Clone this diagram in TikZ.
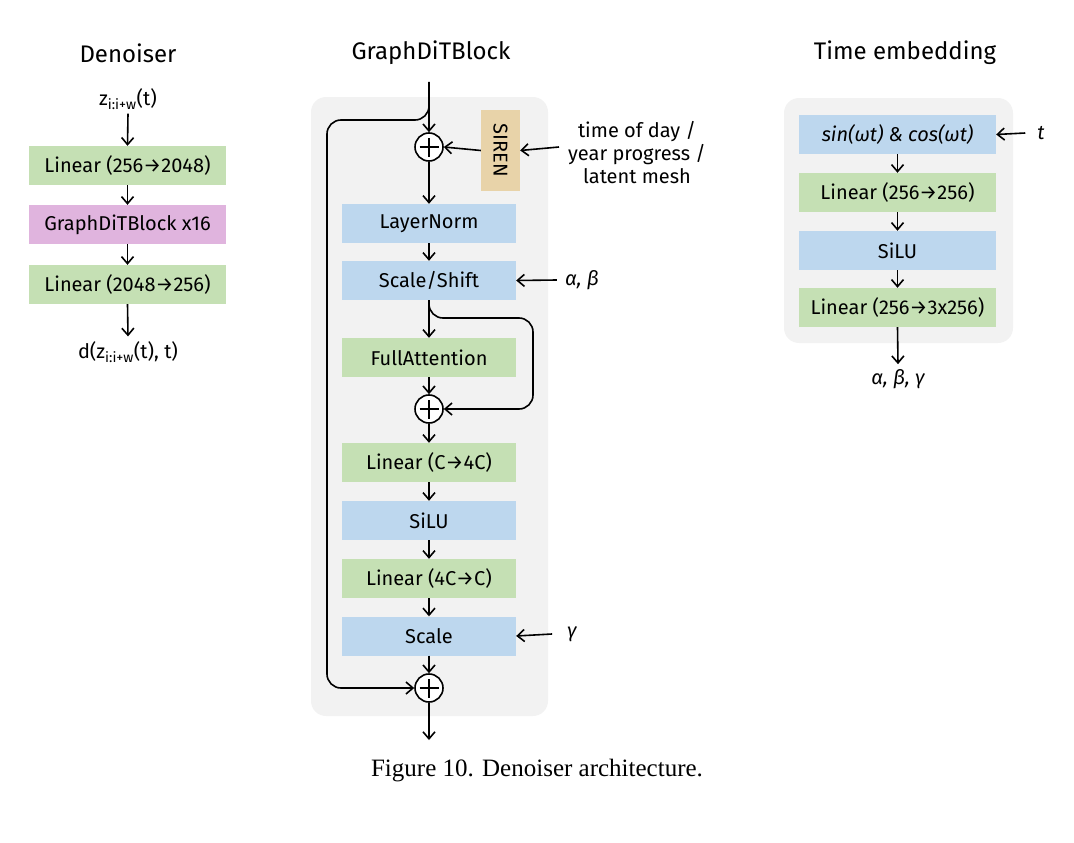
\documentclass[tikz,border=0pt]{standalone}
\usepackage{fontspec}
\setmainfont{Fira Sans}
\newfontfamily\capfont{Liberation Serif}
\usetikzlibrary{positioning,arrows.meta,calc}
\definecolor{denGreen}{HTML}{C5E0B4}
\definecolor{denBlue}{HTML}{BDD7EE}
\definecolor{denPink}{HTML}{E0B4DE}
\definecolor{denSand}{HTML}{E8D3A9}
\definecolor{denPanel}{HTML}{F2F2F2}

\begin{document}
\begin{tikzpicture}[
  x=1pt,
  y=-1pt,
  layer/.style={inner sep=0pt, minimum width=197pt, minimum height=39pt, font=\fontsize{20}{23}\selectfont},
  greenbox/.style={layer, fill=denGreen},
  bluebox/.style={layer, fill=denBlue},
  pinkbox/.style={layer, fill=denPink},
  blockbox/.style={inner sep=0pt, minimum width=174pt, minimum height=39pt, font=\fontsize{20}{23}\selectfont},
  panel/.style={fill=denPanel, rounded corners=15pt},
  sumnode/.style={circle, draw, fill=white, line width=1.6pt, minimum size=28pt, inner sep=0pt,
    path picture={
      \draw[line width=1.6pt] ([xshift=-9.5pt]path picture bounding box.center) -- ([xshift=9.5pt]path picture bounding box.center);
      \draw[line width=1.6pt] ([yshift=-9.5pt]path picture bounding box.center) -- ([yshift=9.5pt]path picture bounding box.center);}},
  title/.style={font=\fontsize{24}{28}\selectfont},
  txt/.style={font=\fontsize{20}{23}\selectfont, align=center, inner sep=0pt},
  arrow/.style={-{Straight Barb[length=7pt,width=12pt]}, line width=1.6pt},
  skip/.style={-{Straight Barb[length=7pt,width=12pt]}, line width=1.6pt, rounded corners=14pt}
]
\useasboundingbox (0,0) rectangle (1074,843);

% Denoiser
\node[title] (dentitle) at (128,53) {Denoiser};
\node[txt] (zin) at (128,99) {z\textsubscript{i:i+w}(t)};
\node[greenbox] (lin1) at (127.5,165.5) {Linear (256→2048)};
\node[pinkbox] (blocks) at (127.5,224.5) {GraphDiTBlock x16};
\node[greenbox] (lin2) at (127.5,284.5) {Linear (2048→256)};
\node[txt] (dout) at (128,352) {d(z\textsubscript{i:i+w}(t), t)};

\draw[arrow] (zin.south) ++(0,4) -- (lin1.north);
\draw[arrow] (lin1) -- (blocks);
\draw[arrow] (blocks) -- (lin2);
\draw[arrow] (lin2.south) -- ([yshift=5pt]dout.north);

% GraphDiTBlock
\node[title] (blktitle) at (431,53) {GraphDiTBlock};
\fill[panel] (311,97) rectangle (548,716);
\coordinate (blkin) at (429,82);
\node[sumnode] (sum1) at (429,147) {};
\node[inner sep=0pt, minimum width=39pt, minimum height=81pt, fill=denSand] (siren) at (500.5,150.5) {};
\node[txt, rotate=-90] (sirentxt) at (siren.center) {SIREN};
\node[txt] (cond) at (637,153) {time of day /\\[0pt]year progress /\\[0pt]latent mesh};
\node[blockbox, fill=denBlue] (norm) at (429,223.5) {LayerNorm};
\node[blockbox, fill=denBlue] (shift) at (429,280.5) {Scale/Shift};
\node[txt, font=\fontsize{20}{23}\selectfont\itshape] (ab) at (582,280) {α, β};
\node[blockbox, fill=denGreen] (attn) at (429,357.5) {FullAttention};
\node[sumnode] (sum2) at (429,409) {};
\node[blockbox, fill=denGreen] (up) at (429,462.5) {Linear (C→4C)};
\node[blockbox, fill=denBlue] (act) at (429,520.5) {SiLU};
\node[blockbox, fill=denGreen] (down) at (429,578.5) {Linear (4C→C)};
\node[blockbox, fill=denBlue] (gate) at (429,636) {Scale};
\node[txt, font=\fontsize{20}{23}\selectfont\itshape] (g) at (572,634) {γ};
\node[sumnode] (sum3) at (429,688) {};
\coordinate (blkout) at (429,740);

\draw[arrow] (blkin) -- (sum1.north);
\draw[skip] (blkin) -- (429,120) -- (327,120) -- (327,688) -- (sum3.west);
\draw[arrow] (siren.west) -- (sum1.east);
\draw[arrow] (559,147) -- (siren.east);
\draw[arrow] (sum1.south) -- (norm.north);
\draw[arrow] (norm) -- (shift);
\draw[arrow] (ab.west) ++(-8,0) -- (shift.east);
\draw[arrow] (shift) -- (attn);
\draw[skip] (shift.south) -- (429,318) -- (533,318) -- (533,409) -- (sum2.east);
\draw[arrow] (attn) -- (sum2);
\draw[arrow] (sum2) -- (up);
\draw[arrow] (up) -- (act);
\draw[arrow] (act) -- (down);
\draw[arrow] (down) -- (gate);
\draw[arrow] (g.west) ++(-15,0) -- (gate.east);
\draw[arrow] (gate) -- (sum3);
\draw[arrow] (sum3.south) -- (blkout);

% Time embedding
\node[title] (timetitle) at (905,53) {Time embedding};
\fill[panel] (784,98) rectangle (1013,343);
\node[bluebox, font=\fontsize{20}{23}\selectfont\itshape] (fourier) at (897.5,134.5) {sin(ωt) \& cos(ωt)};
\node[greenbox] (tlin1) at (897.5,192.5) {Linear (256→256)};
\node[bluebox] (tact) at (897.5,250.5) {SiLU};
\node[greenbox] (tlin2) at (897.5,307.5) {Linear (256→3x256)};
\node[txt, font=\fontsize{20}{23}\selectfont\itshape] (tin) at (1041,133) {t};
\node[txt, font=\fontsize{20}{23}\selectfont\itshape] (abg) at (898,379) {α, β, γ};

\draw[arrow] (tin.west) ++(-12,0) -- (fourier.east);
\draw[arrow] (fourier) -- (tlin1);
\draw[arrow] (tlin1) -- (tact);
\draw[arrow] (tact) -- (tlin2);
\draw[arrow] (tlin2.south) -- ([yshift=5pt]abg.north);

\node[font=\capfont\fontsize{25}{28}\selectfont] (caption) at (537,771) {Figure 10. Denoiser architecture.};
\end{tikzpicture}
\end{document}
